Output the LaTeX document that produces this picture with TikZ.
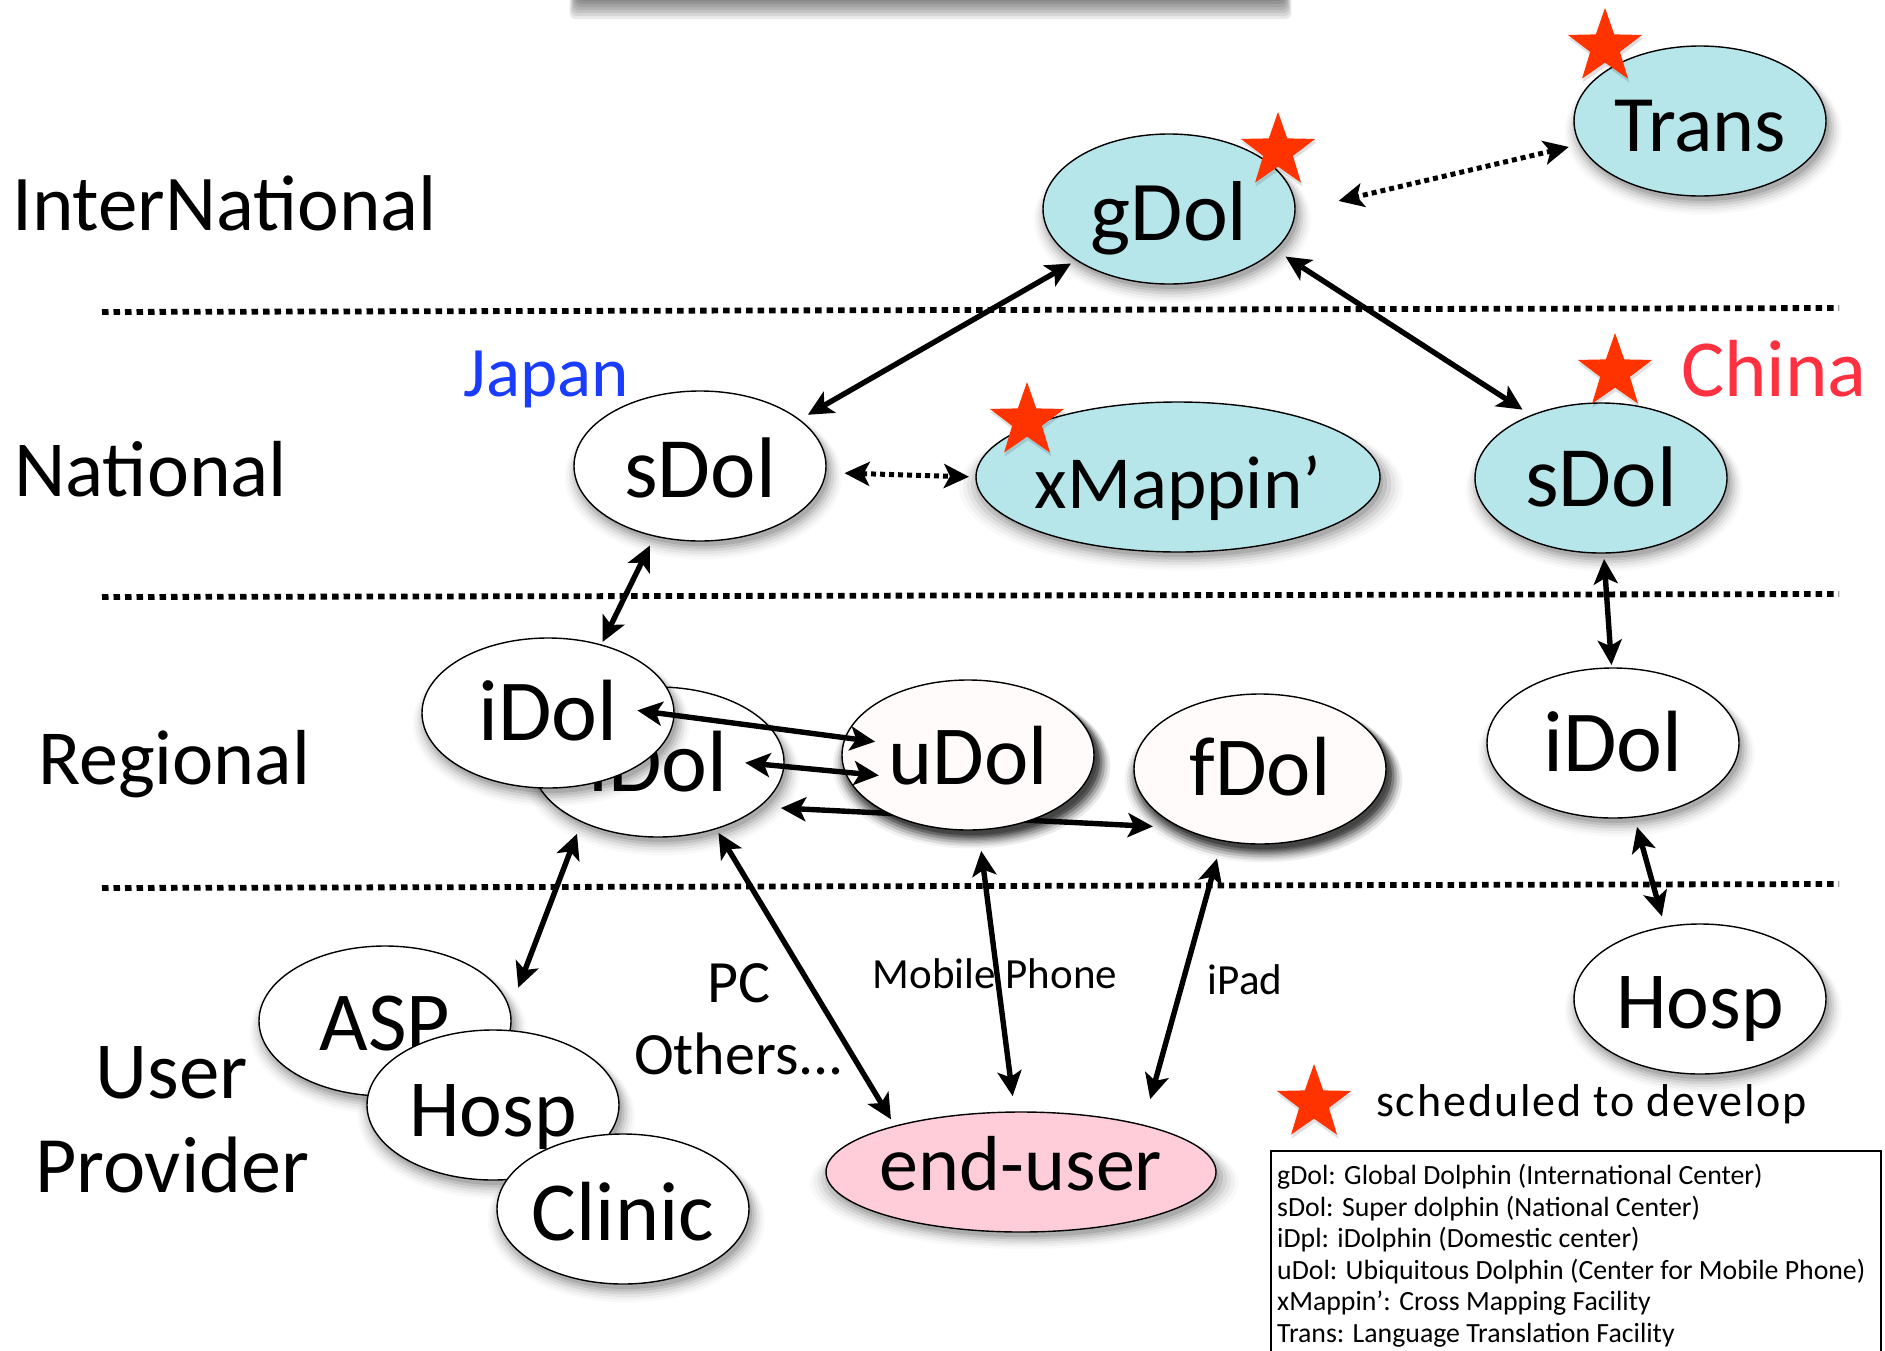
\documentclass[tikz,border=0pt]{standalone}
\usepackage{fontspec}
\setmainfont{Carlito}
\usetikzlibrary{arrows.meta,shapes.geometric,shadows}
\pgfdeclarelayer{back}
\pgfsetlayers{back,main}
\definecolor{dolblue}{HTML}{B6E5EA}
\definecolor{dolsnow}{HTML}{FFFBFB}
\definecolor{dolpink}{HTML}{FFCCDA}
\definecolor{starred}{HTML}{FF3300}
\definecolor{japanblue}{HTML}{1A3CFF}
\definecolor{chinared}{HTML}{FF3040}
\tikzset{
  softshadow/.style={
    general shadow={shadow xshift=3pt,shadow yshift=-10pt,shadow scale=1.10,fill=black,opacity=.025},
    general shadow={shadow xshift=3pt,shadow yshift=-9pt,shadow scale=1.08,fill=black,opacity=.035},
    general shadow={shadow xshift=3pt,shadow yshift=-8pt,shadow scale=1.06,fill=black,opacity=.05},
    general shadow={shadow xshift=3pt,shadow yshift=-7pt,shadow scale=1.04,fill=black,opacity=.07},
    general shadow={shadow xshift=3pt,shadow yshift=-6pt,shadow scale=1.02,fill=black,opacity=.09},
    general shadow={shadow xshift=3pt,shadow yshift=-5pt,shadow scale=1.00,fill=black,opacity=.11}},
  hardshadow/.style={
    general shadow={shadow xshift=6pt,shadow yshift=-10pt,shadow scale=1.08,fill=black,opacity=.04},
    general shadow={shadow xshift=6pt,shadow yshift=-9pt,shadow scale=1.06,fill=black,opacity=.06},
    general shadow={shadow xshift=6pt,shadow yshift=-8pt,shadow scale=1.04,fill=black,opacity=.09},
    general shadow={shadow xshift=6pt,shadow yshift=-7pt,shadow scale=1.02,fill=black,opacity=.13},
    general shadow={shadow xshift=6pt,shadow yshift=-6pt,shadow scale=1.00,fill=black,opacity=.17}},
  dol/.style={ellipse,draw=black,line width=1.4pt,fill=white,inner sep=0pt,inner xsep=-25pt,outer sep=0pt,
    minimum width=252pt,minimum height=150pt,softshadow},
  dolb/.style={dol,fill=dolblue},
  dols/.style={dol,fill=dolsnow,softshadow,hardshadow},
  sz/.style={font=\fontsize{#1}{#1}\selectfont},
  base/.style={text height=#1,text depth=0pt},
  starmark/.style={star,star points=5,star point ratio=2.5,fill=starred,draw=none,inner sep=0pt,
    minimum size=78pt,
    general shadow={shadow xshift=1pt,shadow yshift=-3pt,shadow scale=1.03,fill=black,opacity=.12}},
  level/.style={inner sep=0pt},
  small/.style={font=\fontsize{43}{43}\selectfont,inner sep=0pt},
  dotline/.style={line width=5.8pt,dash pattern=on 6.5pt off 5pt},
  link/.style={line width=5.4pt,{Stealth[length=25pt,width=24pt,inset=6pt]}-{Stealth[length=25pt,width=24pt,inset=6pt]}},
  dotlink/.style={link,line width=5pt,dash pattern=on 5pt off 4pt},
}
\newcommand{\conn}[7][link]{\draw[#1,shorten <=#4pt,shorten >=#7pt] (#2.#3) -- (#5.#6);}
\begin{document}
\begin{tikzpicture}[x=1pt,y=-1pt]
\useasboundingbox (0,0) rectangle (1885,1350);
\clip (0,0) rectangle (1885,1350);
% band at the top
\foreach \g in {21,18,15,12,9,6,3,0}
  \fill[black,opacity=.085,rounded corners=6pt] (578-\g*0.4,-60) rectangle (1283+\g*0.4,\g-2);
% coordinates for separators
\coordinate (s1a) at (102,312); \coordinate (s1b) at (1839,308);
\coordinate (s2a) at (102,597); \coordinate (s2b) at (1839,594);
\coordinate (s3a) at (102,888); \coordinate (s3b) at (1839,884);
% nodes
\node[dolb,sz=80,base=60pt] (trans) at (1700,121) {Trans};
\node[dolb,sz=85,base=62pt] (gdol) at (1169,209) {gDol};
\node[dol,sz=86,base=62pt] (sdolj) at (700,466) {sDol};
\node[dolb,sz=75,base=62pt,minimum width=404pt] (xmap) at (1178,477) {xMappin’};
\node[dolb,sz=86,base=56pt] (sdolc) at (1601,478) {sDol};
\node[dol,sz=87,base=58pt] (idolu) at (658,762) {iDol};
\node[dol,sz=87,base=54pt] (idolt) at (548,713) {iDol};
\node[dols,sz=84,base=58pt] (udol) at (968,755) {uDol};
\node[dols,sz=84,base=52pt] (fdol) at (1260,769) {fDol};
\node[dol,sz=87,base=56pt] (idolc) at (1613,743) {iDol};
\node[dol,sz=81,base=58pt] (hospr) at (1700,999) {Hosp};
\node[dol,sz=84,base=58pt] (asp) at (385,1021) {ASP};
\node[dol,sz=81,base=62pt] (hosp) at (493,1105) {Hosp};
\node[dol,sz=84,base=62pt] (clinic) at (623,1209) {Clinic};
\node[dolb,fill=dolpink,sz=78,base=36pt,minimum width=390pt,minimum height=120pt] (enduser) at (1021,1172) {end-user};
% stars
\node[starmark] (st1) at (1605,47) {};
\node[starmark] (st2) at (1278,151) {};
\node[starmark] (st3) at (1027,421) {};
\node[starmark] (st4) at (1615,372) {};
\node[starmark] (st5) at (1314,1103) {};
% labels
\node[level,sz=79,anchor=west] (l1) at (12,203) {InterNational};
\node[level,sz=79.5,anchor=west] (l2) at (14,469) {National};
\node[level,sz=78,anchor=west] (l3) at (38,764) {Regional};
\node[level,sz=81,align=center] (l4a) at (172,1073) {User};
\node[level,sz=80,align=center] (l4b) at (172,1165) {Provider};
\node[level,sz=71,text=japanblue] (japan) at (546,379) {Japan};
\node[level,sz=81,text=chinared] (china) at (1774,369) {China};
\node[sz=60,inner sep=0pt] (pc) at (739,983) {PC};
\node[sz=60,inner sep=0pt] (others) at (739,1054) {Others...};
\node[small] (mobile) at (995,974) {Mobile Phone};
\node[small] (ipad) at (1245,980) {iPad};
\node[small,anchor=west,font=\fontsize{46}{46}\selectfont\addfontfeatures{LetterSpace=4}] (sched) at (1376,1104) {scheduled to develop};
\node[draw=black,line width=1.6pt,fill=white,anchor=north west,minimum width=610pt,minimum height=230pt,inner sep=0pt] (legendbox) at (1270,1150) {};
\node[anchor=north west,align=left,inner sep=0pt,font=\fontsize{27.8}{31.5}\selectfont] (legend) at (1277,1164) {gDol: Global Dolphin (International Center)\\
sDol: Super dolphin (National Center)\\
iDpl: iDolphin (Domestic center)\\
uDol: Ubiquitous Dolphin (Center for Mobile Phone)\\
xMappin’: Cross Mapping Facility\\
Trans: Language Translation Facility};
% separators and the link behind uDol
\begin{pgfonlayer}{back}
\draw[dotline] (s1a) -- (s1b);
\draw[dotline] (s2a) -- (s2b);
\draw[dotline] (s3a) -- (s3b);
\conn{idolu}{-24}{22}{fdol}{217.7}{29}
\end{pgfonlayer}
% links
\conn{gdol}{209.6}{6.7}{sdolj}{25.3}{10}
\conn{gdol}{-21.5}{12.7}{sdolc}{138.9}{10.7}
\conn[dotlink]{trans}{191.1}{11.7}{gdol}{-1}{44.8}
\conn[dotlink]{sdolj}{-3.6}{19}{xmap}{180.3}{7}
\conn{sdolj}{237.2}{10.7}{idolt}{52.7}{3.4}
\conn{sdolc}{-88.6}{6}{idolc}{91.5}{3}
\conn{idolc}{-74.7}{10.4}{hospr}{116}{11}
\conn{idolt}{-1.3}{-37}{udol}{172.6}{-30}
\conn{idolu}{-2.6}{-38.8}{udol}{188.3}{-33.7}
\conn{idolu}{218.3}{13}{asp}{5}{24}
\conn{idolu}{-49.6}{5}{enduser}{160}{8}
\conn{udol}{-82.9}{21.3}{enduser}{96}{16}
\conn{fdol}{242}{18.7}{enduser}{21.4}{27}
\end{tikzpicture}
\end{document}
